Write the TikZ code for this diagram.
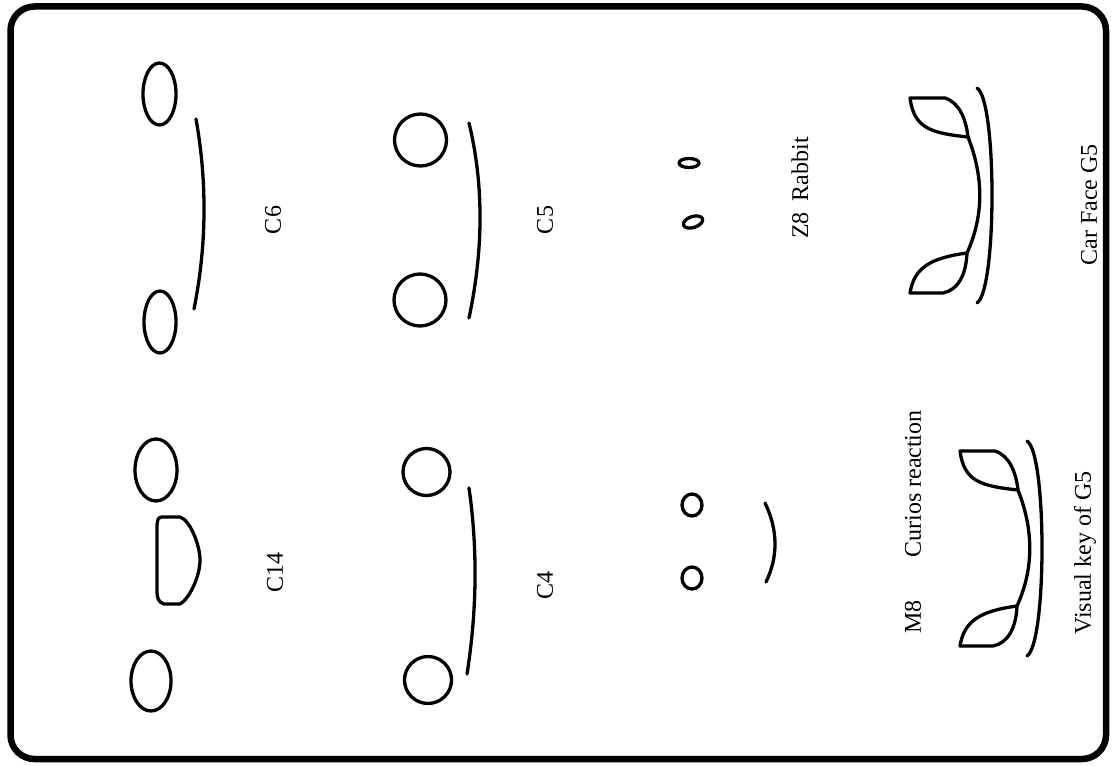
\documentclass[tikz,border=0pt]{standalone}
\usepackage{fontspec}
\setmainfont{Liberation Serif}
\begin{document}
\begin{tikzpicture}[x=1pt,y=-1pt,
  stroke/.style={line width=3.3pt,line cap=round,line join=round},
  label/.style={rotate=90,inner sep=0pt,font=\fontsize{24}{29}\selectfont},
  carface/.pic={
    % upper leaf
    \draw[stroke] (910,98) -- (945,98) .. controls (960,103) and (966,120) .. (968,137)
      .. controls (930,133) and (914,128) .. cycle;
    % lower leaf
    \draw[stroke] (910,293) -- (943,293) .. controls (958,290) and (966,275) .. (967,253)
      .. controls (930,258) and (914,268) .. cycle;
    % inner band
    \draw[stroke] (968,137) .. controls (984,177.7) and (983.7,216.3) .. (967,253);
    % outer band
    \draw[stroke] (977,88) .. controls (997,100) and (997,290) .. (977,303);
  }]
\useasboundingbox (0,0) rectangle (1115,765);

% frame
\draw[line width=6.5pt,rounded corners=24pt] (10.5,6.5) rectangle (1106,759);

% C6
\draw[stroke] (159.5,94) ellipse [x radius=16.5,y radius=31];
\draw[stroke] (160,322) ellipse [x radius=16,y radius=31];
\draw[stroke] (196,119) .. controls (207.3,182.3) and (206.7,245.7) .. (194,309);
\node[label] (c6) at (273,220) {C6};

% C5
\draw[stroke] (420.5,140) circle [radius=26];
\draw[stroke] (420,300) circle [radius=26];
\draw[stroke] (469,123) .. controls (483.7,183.7) and (483.7,248.7) .. (469,318);
\node[label] (c5) at (545,220) {C5};

% Z8 Rabbit
\draw[stroke] (689,163) ellipse [x radius=10,y radius=4.5];
\draw[stroke,rotate around={18:(693,222)}] (693,222) ellipse [x radius=10,y radius=5.5];
\node[label] (z8) at (800,188) {Z8\hspace{0.45em}Rabbit};

% Car Face G5
\pic (car) at (0,0) {carface};
\node[label] (car-lbl) at (1089,205) {Car Face G5};

% C14
\draw[stroke] (156,470) ellipse [x radius=21,y radius=31];
\draw[stroke] (162,517) -- (180,517) .. controls (190,520) and (200,545) .. (200,560)
  .. controls (200,578) and (188,600) .. (180,604) -- (164,604)
  .. controls (158,602) and (157,598) .. (157,590) -- (157,528)
  .. controls (157,520) and (158,517) .. cycle;
\draw[stroke] (151,681) ellipse [x radius=20,y radius=30];
\node[label] (c14) at (275,572) {C14};

% C4
\draw[stroke] (426.5,472) circle [radius=23.5];
\draw[stroke] (428,680) circle [radius=23.5];
\draw[stroke] (469,488) .. controls (477.7,548.7) and (477,610.7) .. (467,674);
\node[label] (c4) at (545,585) {C4};

% M8 curious reaction
\draw[stroke] (692,505) ellipse [x radius=10,y radius=11];
\draw[stroke] (692,578) ellipse [x radius=10,y radius=11];
\draw[stroke] (765,503) .. controls (778,529.7) and (778.3,556.7) .. (766,582);
\node[label] (m8) at (913,617) {M8};
\node[label] (curios) at (913,484) {Curios reaction};

% Visual key of G5
\pic (key) at (50,353) {carface};
\node[label] (key-lbl) at (1085,553) {Visual key of G5};
\end{tikzpicture}
\end{document}
